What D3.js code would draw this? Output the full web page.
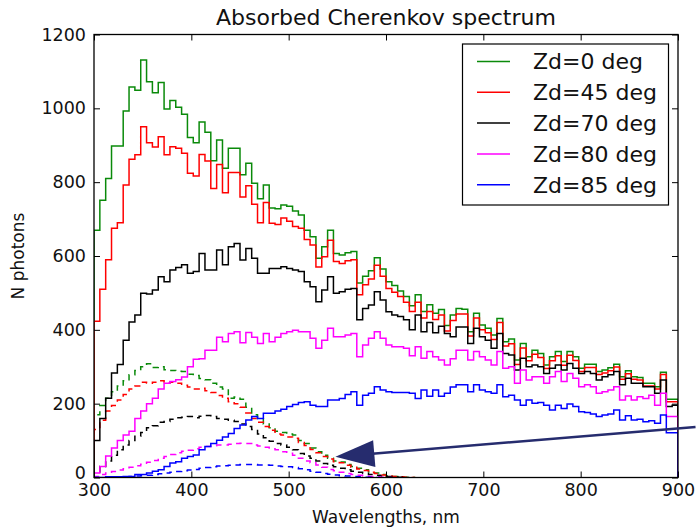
<!DOCTYPE html>
<html><head><meta charset="utf-8">
<script src="https://cdn.jsdelivr.net/npm/d3@7/dist/d3.min.js"></script>
<style>
body{margin:0;background:#fff}
svg{display:block}
text{font-family:"DejaVu Sans",sans-serif;fill:#111}
</style></head>
<body><svg id="chart" width="696" height="531"></svg>
<script>
// ---------- data ----------
const binStart = 300;      // nm
const binWidth = 6;        // nm
const xTicks = [300, 400, 500, 600, 700, 800, 900];
const yTicks = [0, 200, 400, 600, 800, 1000, 1200];
const labels = ["Zd=0 deg", "Zd=45 deg", "Zd=70 deg", "Zd=80 deg", "Zd=85 deg"];
const colors = ["#0a8a0a", "#ff0000", "#000000", "#ff00ff", "#0000ff"];

const zd0 = [670,751,810,898,898,993,1058,1049,1131,1072,
 1042,1070,998,1021,1003,984,921,907,963,935,
 858,914,838,892,892,820,851,797,755,792,
 730,728,738,735,722,711,670,652,594,625,
 670,607,603,609,612,527,545,560,595,565,
 530,520,505,490,465,495,450,468,445,455,
 412,440,458,456,395,445,413,404,386,431,
 368,375,318,363,327,345,336,305,327,341,
 314,341,327,296,307,307,287,291,297,307,
 273,289,273,271,255,255,246,285,212,212];
const zd45 = [423,510,590,675,690,792,862,874,950,907,
 895,923,874,896,892,878,824,817,875,857,
 783,848,771,826,826,760,790,740,690,745,
 689,685,703,694,680,675,645,630,570,598,
 643,585,580,587,590,495,522,538,575,545,
 512,502,490,475,450,475,432,450,428,440,
 397,425,443,443,383,432,400,392,374,420,
 356,362,306,351,316,334,325,295,316,330,
 304,331,317,287,298,298,279,283,289,299,
 266,281,266,264,248,248,240,279,205,205];
const zd70 = [100,160,215,283,306,372,421,440,499,497,
 508,544,530,562,569,576,553,558,607,562,
 562,616,576,625,634,589,620,594,553,553,
 566,566,571,566,562,558,530,517,476,508,
 544,499,503,510,512,427,458,467,503,481,
 449,440,436,427,400,440,395,420,392,410,
 390,381,408,408,363,404,381,372,350,390,
 336,332,291,323,300,305,300,282,296,305,
 291,309,296,282,287,282,264,273,278,287,
 251,269,255,255,246,246,228,264,192,196];
const zd80 = [12,30,58,80,100,115,125,160,180,200,
 215,240,255,260,265,272,300,320,322,345,
 345,380,368,390,395,365,393,380,363,390,
 368,380,390,395,399,395,395,377,350,372,
 404,381,381,386,390,327,359,377,395,377,
 359,354,354,350,330,354,323,341,327,318,
 305,322,345,345,318,341,327,318,305,341,
 296,300,255,291,264,273,273,255,273,287,
 260,282,269,246,251,246,228,232,237,246,
 210,221,210,219,214,223,196,228,165,165];
const zd85 = [0,0,2,2,2,3,3,8,8,12,
 17,21,30,39,43,52,57,61,75,84,
 92,101,110,119,133,142,156,165,160,174,
 174,180,185,192,198,203,205,196,192,192,
 210,210,214,225,232,196,223,228,246,237,
 232,230,230,230,228,214,237,220,237,220,
 228,245,251,251,232,251,237,232,228,251,
 219,223,210,196,210,201,203,196,183,196,
 187,199,192,178,176,172,165,169,172,183,
 156,167,156,158,151,154,147,169,121,121];

// dashed (absorbed) spectra, same bins, until they reach zero
const zd0Dashed = [170,195,215,232,248,262,278,290,300,308,298,300,292,290,288,287,280,276,268,265,
 255,245,240,215,218,212,190,170,160,145,135,125,122,118,115,100,92,80,70,60,
 52,45,42,35,30,25,21,15,12,8,5,3,2,1,0];
const zd45Dashed = [130,155,180,195,210,225,240,248,258,255,258,262,255,258,255,250,245,240,242,235,
 230,222,215,205,200,190,175,160,150,138,128,118,115,110,106,95,87,76,67,57,
 50,43,40,33,28,23,19,14,11,7,5,3,2,1,0];
const zd70Dashed = [15,30,45,60,75,88,100,112,122,135,140,150,152,158,162,163,165,162,166,168,
 165,160,158,155,152,145,138,130,118,108,98,92,88,82,75,65,58,52,45,38,
 33,29,25,21,17,14,11,8,6,4,3,2,1,0];
const zd80Dashed = [3,8,12,16,20,24,28,32,36,41,46,52,57,62,67,71,74,78,82,84,
 86,88,88,90,92,93,92,88,85,82,78,75,70,66,60,52,45,40,34,28,
 22,18,14,11,8,6,4,3,2,1,0];
const zd85Dashed = [0,0,1,1,2,2,3,4,5,6,8,10,12,14,16,18,20,22,25,27,
 29,31,32,33,34,35,35,35,34,34,33,31,30,29,27,24,21,17,14,11,
 9,7,5,4,3,2,1,1,0];

// annotation arrow (data coords): tail -> head
const arrowTail = [918, 137];
const arrowHead = [548, 56];

const solidSeries = [zd0, zd45, zd70, zd80, zd85];
const dashedSeries = [zd0Dashed, zd45Dashed, zd70Dashed, zd80Dashed, zd85Dashed];

// ---------- layout ----------
const svg = d3.select("#chart");
const x = d3.scaleLinear().domain([300, 900]).range([94, 678]);
const y = d3.scaleLinear().domain([0, 1200]).range([477.5, 34.5]);

svg.append("defs").append("clipPath").attr("id", "clip")
  .append("rect").attr("x", 94).attr("y", 34.5).attr("width", 584).attr("height", 443);

function stepPath(vals) {
  const p = d3.path();
  p.moveTo(x(binStart), y(0));
  vals.forEach((v, i) => {
    const x0 = x(binStart + i * binWidth), x1 = x(binStart + (i + 1) * binWidth);
    p.lineTo(x0, y(v));
    p.lineTo(x1, y(v));
  });
  p.lineTo(x(binStart + vals.length * binWidth), y(0));
  return p.toString();
}

const plot = svg.append("g").attr("clip-path", "url(#clip)");
solidSeries.forEach((vals, k) => {
  plot.append("path").attr("d", stepPath(vals))
    .attr("fill", "none").attr("stroke", colors[k]).attr("stroke-width", 1.5)
    .attr("stroke-linejoin", "miter");
  plot.append("path").attr("d", stepPath(dashedSeries[k]))
    .attr("fill", "none").attr("stroke", colors[k]).attr("stroke-width", 1.5)
    .attr("stroke-dasharray", "6,5");
});

// axes (classic style: ticks inside on all four sides)
const fsTick = 17.5;
const gx = svg.append("g").attr("transform", "translate(0,477.5)")
  .call(d3.axisBottom(x).tickValues(xTicks).tickSize(-6).tickPadding(6).tickFormat(d3.format("d")));
const gxt = svg.append("g").attr("transform", "translate(0,34.5)")
  .call(d3.axisTop(x).tickValues(xTicks).tickSize(-6).tickFormat(""));
const gy = svg.append("g").attr("transform", "translate(94,0)")
  .call(d3.axisLeft(y).tickValues(yTicks).tickSize(-6).tickPadding(8).tickFormat(d3.format("d")));
const gyr = svg.append("g").attr("transform", "translate(678,0)")
  .call(d3.axisRight(y).tickValues(yTicks).tickSize(-6).tickFormat(""));
[gx, gxt, gy, gyr].forEach(g => {
  g.select(".domain").remove();
  g.selectAll("line").attr("stroke", "#000").attr("stroke-width", 1);
  g.selectAll("text").style("font-size", fsTick + "px").attr("fill", "#111")
    .style("font-family", "'DejaVu Sans', sans-serif");
});
// nudge the "0" y label up a little so it sits clear of the "300" x label
gy.selectAll(".tick").filter(d => d === 0).select("text").attr("dy", "0.05em");
svg.append("rect").attr("x", 94).attr("y", 34.5).attr("width", 584).attr("height", 443)
  .attr("fill", "none").attr("stroke", "#000").attr("stroke-width", 1.3);

// arrow annotation
const ax0 = x(arrowTail[0]), ay0 = y(arrowTail[1]);
const ax1 = x(arrowHead[0]), ay1 = y(arrowHead[1]);
const ang = Math.atan2(ay1 - ay0, ax1 - ax0);
const headLen = 39, headHalf = 13.5;
const bx = ax1 - headLen * Math.cos(ang), by = ay1 - headLen * Math.sin(ang);
svg.append("line").attr("x1", ax0).attr("y1", ay0).attr("x2", bx + 2 * Math.cos(ang)).attr("y2", by + 2 * Math.sin(ang))
  .attr("stroke", "#262c6e").attr("stroke-width", 2.5);
svg.append("path")
  .attr("d", `M${ax1},${ay1} L${bx - headHalf * Math.sin(ang)},${by + headHalf * Math.cos(ang)} L${bx + headHalf * Math.sin(ang)},${by - headHalf * Math.cos(ang)} Z`)
  .attr("fill", "#262c6e");

// titles
svg.append("text").attr("x", 386).attr("y", 25).attr("text-anchor", "middle")
  .style("font-size", "22px").text("Absorbed Cherenkov spectrum");
svg.append("text").attr("x", 386).attr("y", 523).attr("text-anchor", "middle")
  .style("font-size", "17px").text("Wavelengths, nm");
svg.append("text").attr("transform", "translate(24,256) rotate(-90)").attr("text-anchor", "middle")
  .style("font-size", "17px").text("N photons");

// legend
const lg = svg.append("g");
lg.append("rect").attr("x", 462.5).attr("y", 44).attr("width", 206).attr("height", 161)
  .attr("fill", "#fff").attr("stroke", "#000").attr("stroke-width", 1.2);
labels.forEach((lab, k) => {
  const ry = 61.5 + k * 30.8;
  lg.append("line").attr("x1", 477).attr("x2", 510).attr("y1", ry).attr("y2", ry)
    .attr("stroke", colors[k]).attr("stroke-width", 1.5);
  lg.append("text").attr("x", 533).attr("y", ry).attr("dy", "0.36em")
    .style("font-size", "22px").text(lab);
});
</script></body></html>
